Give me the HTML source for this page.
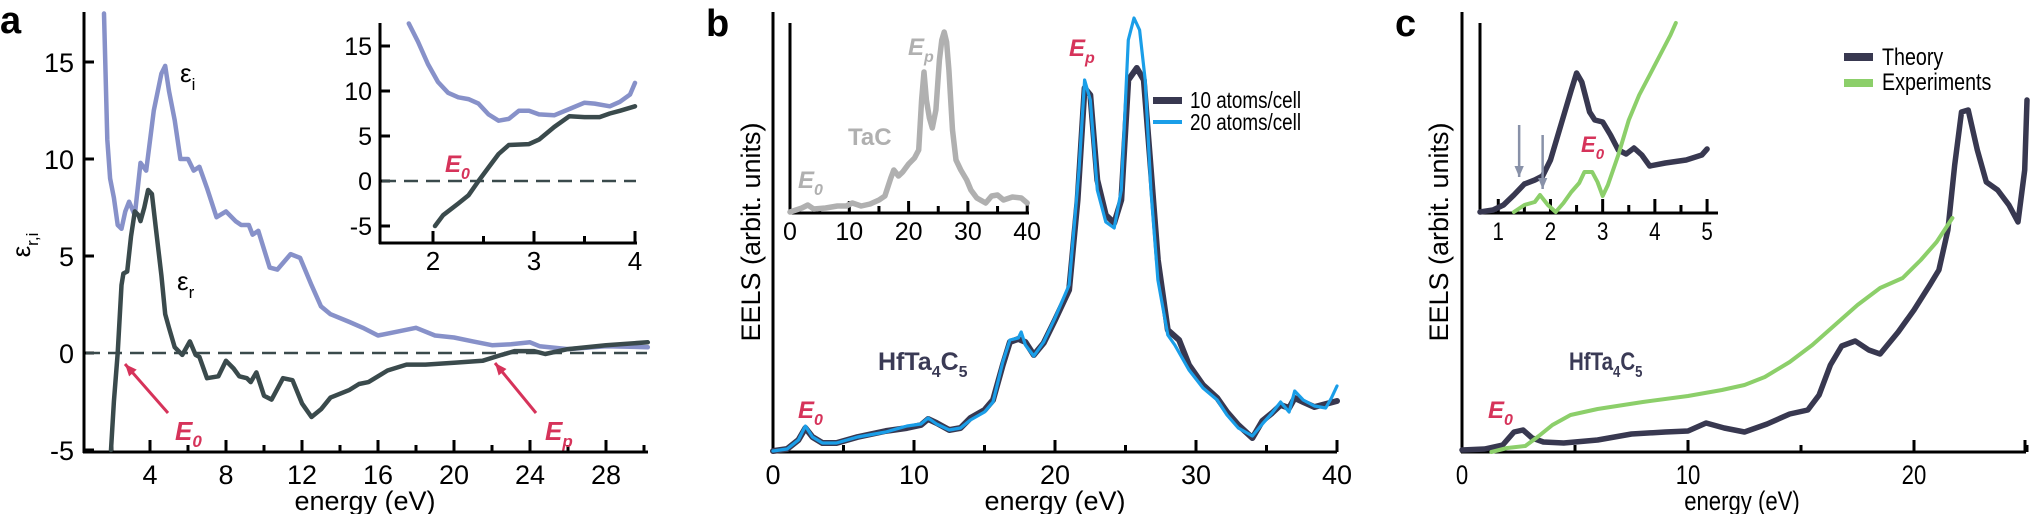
<!DOCTYPE html>
<html><head><meta charset="utf-8">
<style>
html,body{margin:0;padding:0;background:#fff;}
svg{display:block;font-family:"Liberation Sans",sans-serif;}
</style></head>
<body>
<svg id="s" width="2030" height="514" viewBox="0 0 2030 514" xmlns="http://www.w3.org/2000/svg">
<g id="g"></g>
<text x="0" y="33" font-size="38" font-weight="bold">a</text>
<text x="706" y="36" font-size="38" font-weight="bold">b</text>
<text x="1395" y="36" font-size="38" font-weight="bold">c</text>
<text x="180" y="82" font-size="26">ε<tspan font-size="17" dy="8">i</tspan></text>
<text x="177" y="290" font-size="26">ε<tspan font-size="17" dy="8">r</tspan></text>
<text transform="translate(30,245) rotate(-90)" font-size="26" text-anchor="middle">ε<tspan font-size="17" dy="8">r,i</tspan></text>
<text x="365" y="510" font-size="27" text-anchor="middle">energy (eV)</text>
<text x="175" y="440" font-size="26" font-weight="bold" font-style="italic" fill="#d6335a">E<tspan font-size="17" dy="7">0</tspan></text>
<text x="545" y="440" font-size="26" font-weight="bold" font-style="italic" fill="#d6335a">E<tspan font-size="17" dy="7">p</tspan></text>
<text x="445" y="172" font-size="24" font-weight="bold" font-style="italic" fill="#d6335a">E<tspan font-size="16" dy="7">0</tspan></text>
<text transform="translate(760,232) rotate(-90)" font-size="27" text-anchor="middle">EELS (arbit. units)</text>
<text x="1055" y="510" font-size="27" text-anchor="middle">energy (eV)</text>
<text x="878" y="370" font-size="25" font-weight="bold" fill="#3a3a55">HfTa<tspan font-size="16" dy="7">4</tspan><tspan dy="-7">C</tspan><tspan font-size="16" dy="7">5</tspan></text>
<text x="798" y="418" font-size="24" font-weight="bold" font-style="italic" fill="#d6335a">E<tspan font-size="16" dy="7">0</tspan></text>
<text x="1069" y="56" font-size="24" font-weight="bold" font-style="italic" fill="#d6335a">E<tspan font-size="16" dy="7">p</tspan></text>
<text x="848" y="145" font-size="24" font-weight="bold" fill="#b0b0b0">TaC</text>
<text x="798" y="188" font-size="24" font-weight="bold" font-style="italic" fill="#b0b0b0">E<tspan font-size="16" dy="7">0</tspan></text>
<text x="908" y="55" font-size="24" font-weight="bold" font-style="italic" fill="#b0b0b0">E<tspan font-size="16" dy="7">p</tspan></text>
<g font-size="23" transform="translate(1190,0) scale(0.82,1)"><text x="0" y="108">10 atoms/cell</text><text x="0" y="130">20 atoms/cell</text></g>
<rect x="1153" y="97" width="29" height="7" fill="#383850"/>
<rect x="1153" y="120" width="29" height="4" fill="#1a9ee8"/>
<text transform="translate(1448,232) rotate(-90)" font-size="27" text-anchor="middle">EELS (arbit. units)</text>
<g transform="translate(1742,0) scale(0.82,1)"><text x="0" y="510" font-size="27" text-anchor="middle">energy (eV)</text></g>
<g transform="translate(1569,0) scale(0.82,1)"><text x="0" y="370" font-size="25" font-weight="bold" fill="#3a3a55">HfTa<tspan font-size="16" dy="7">4</tspan><tspan dy="-7">C</tspan><tspan font-size="16" dy="7">5</tspan></text></g>
<text x="1488" y="418" font-size="24" font-weight="bold" font-style="italic" fill="#d6335a">E<tspan font-size="16" dy="7">0</tspan></text>
<text x="1581" y="152" font-size="22" font-weight="bold" font-style="italic" fill="#d6335a">E<tspan font-size="15" dy="7">0</tspan></text>
<g font-size="24" transform="translate(1882,0) scale(0.82,1)"><text x="0" y="65">Theory</text><text x="0" y="90">Experiments</text></g>
<rect x="1844" y="53" width="29" height="8" fill="#383850"/>
<rect x="1844" y="79" width="29" height="8" fill="#8ccf6a"/>
</svg>
<script>
const g=document.getElementById('g');const NS='http://www.w3.org/2000/svg';
function el(t,a){const e=document.createElementNS(NS,t);for(const k in a)e.setAttribute(k,a[k]);g.appendChild(e);return e;}
function line(x1,y1,x2,y2,w,c,d){el('line',{x1,y1,x2,y2,stroke:c||'#000','stroke-width':w||3,'stroke-dasharray':d||'none'});}
function txt(x,y,s,fs,anchor,sx){const e=el('text',{x,y,'font-size':fs,'text-anchor':anchor||'middle'});e.textContent=s;if(sx){e.setAttribute('transform',`translate(${x},0) scale(${sx},1) translate(${-x},0)`);}}
function curve(pts,fx,fy,c,w){el('polyline',{points:pts.map(p=>fx(p[0]).toFixed(1)+','+fy(p[1]).toFixed(1)).join(' '),fill:'none',stroke:c,'stroke-width':w,'stroke-linejoin':'round','stroke-linecap':'round'});}
function arrow(x1,y1,x2,y2,c,w,hs){line(x1,y1,x2,y2,w,c);const a=Math.atan2(y2-y1,x2-x1);const p=[[x2,y2],[x2-hs*Math.cos(a-0.4),y2-hs*Math.sin(a-0.4)],[x2-hs*Math.cos(a+0.4),y2-hs*Math.sin(a+0.4)]];el('polygon',{points:p.map(q=>q.join(',')).join(' '),fill:c});}

const ax=E=>74+19*E, ay=v=>353-19.4*v;
line(84,12,84,453,3);line(83,452,648,452,3);
[15,10,5,0,-5].forEach(v=>{line(84,ay(v),94,ay(v),3);txt(74,ay(v)+10,String(v),27,'end');});
for(let E=2;E<=30;E+=2){line(ax(E),452,ax(E),E%4==0?440:445,3);}
[4,8,12,16,20,24,28].forEach(E=>txt(ax(E),484,String(E),27));
line(86,353,647,353,2.5,'#3a4a4c','14 8');
const ei=[[1.58,17.5],[1.75,11],[1.9,9],[2.1,8],[2.3,6.6],[2.5,6.4],[2.7,7.3],[2.9,7.8],[3.2,7.1],[3.5,9.8],[3.8,9.4],[4.2,12.5],[4.6,14.4],[4.8,14.8],[5.0,13.5],[5.3,12],[5.6,10],[6.0,10],[6.3,9.4],[6.6,9.6],[7.0,8.5],[7.5,7],[8.0,7.3],[8.5,6.8],[8.8,6.6],[9.2,6.6],[9.4,6.1],[9.7,6.3],[10.3,4.4],[10.7,4.3],[11.4,5.1],[11.9,4.9],[12.5,3.5],[13.0,2.4],[13.5,2.0],[14.5,1.6],[15.2,1.3],[16,0.9],[17,1.1],[18,1.3],[19,0.9],[20,0.8],[21,0.6],[22,0.4],[23,0.45],[24,0.55],[24.5,0.35],[26,0.2],[28,0.35],[30.2,0.3]];
const er=[[1.95,-5],[2.1,-2.5],[2.3,0],[2.5,3.5],[2.6,4.1],[2.8,4.2],[3.0,6],[3.2,7.3],[3.4,7.1],[3.5,6.8],[3.7,7.5],[3.9,8.4],[4.1,8.2],[4.3,6.5],[4.6,4],[4.8,2],[5.0,1.3],[5.3,0.3],[5.7,-0.1],[6.1,0.6],[6.4,-0.1],[6.6,-0.2],[7.0,-1.3],[7.6,-1.2],[8.0,-0.4],[8.4,-0.8],[8.7,-1.2],[9.1,-1.3],[9.3,-1.5],[9.6,-1.0],[10.0,-2.2],[10.4,-2.4],[11.0,-1.3],[11.5,-1.4],[12.0,-2.6],[12.5,-3.3],[13.0,-2.9],[13.5,-2.3],[14.5,-1.9],[15,-1.6],[15.5,-1.5],[16.5,-0.9],[17.5,-0.6],[18.5,-0.6],[20,-0.5],[21.5,-0.4],[22.5,-0.1],[23.2,0.1],[24.2,0.1],[24.8,-0.05],[26,0.2],[28,0.4],[30.2,0.55]];
curve(ei,ax,ay,'#8791c9',4.5);curve(er,ax,ay,'#3a4a4c',4.5);
arrow(168,413,125,364,'#d6335a',3,13);arrow(536,413,495,363,'#d6335a',3,13);

const ix=E=>433+101*(E-2), iy=v=>181-9*v;
el('rect',{x:381,y:22,width:258,height:160,fill:'#fff'});
line(380,23,380,244,3);line(379,243,637,243,3);
[15,10,5,0,-5].forEach(v=>{line(380,iy(v),390,iy(v),3);txt(372,iy(v)+9,String(v),25,'end');});
[2,2.5,3,3.5,4].forEach(E=>line(ix(E),243,ix(E),E%1==0?231:236,3));
[2,3,4].forEach(E=>txt(ix(E),270,String(E),26));
line(382,181,636,181,2.5,'#3a4a4c','14 8');
curve([[1.76,17.5],[1.85,15.5],[1.95,13],[2.05,11],[2.15,9.8],[2.25,9.3],[2.35,9.1],[2.45,8.6],[2.55,7.4],[2.65,6.7],[2.75,6.9],[2.85,7.8],[2.95,7.8],[3.05,7.4],[3.2,7.3],[3.35,8.0],[3.5,8.7],[3.6,8.6],[3.75,8.3],[3.85,8.8],[3.95,9.6],[4.0,10.9]],ix,iy,'#8791c9',4.5);
curve([[2.02,-5],[2.1,-3.8],[2.25,-2.5],[2.35,-1.6],[2.45,0],[2.55,1.5],[2.65,3],[2.75,4.0],[2.95,4.1],[3.05,4.6],[3.2,6],[3.35,7.2],[3.5,7.1],[3.65,7.1],[3.75,7.5],[3.85,7.8],[4.0,8.3]],ix,iy,'#3a4a4c',4.5);

const bx=E=>773+14.1*E;
line(773,12,773,453,3);line(772,452,1337,452,3);
for(let E=5;E<=40;E+=5)line(bx(E),452,bx(E),E%10==0?440:445,3);
[0,10,20,30,40].forEach(E=>txt(bx(E),484,String(E),27));
const bd=[[0,451],[1,449],[1.8,440],[2.3,428],[2.8,437],[3.5,443],[4.5,443],[6,437],[8,431],[9.5,428],[10.5,425],[11,419],[11.6,423],[12.5,430],[13.3,428],[14,418],[15,410],[15.6,400],[16.3,365],[16.8,342],[17.4,339],[17.9,342],[18.5,355],[19.2,343],[20,320],[21,290],[21.6,200],[22.1,88],[22.5,95],[23,180],[23.6,215],[24.2,223],[24.7,200],[25.2,80],[25.8,68],[26.3,80],[26.8,170],[27.3,260],[28,330],[28.8,340],[29.5,365],[30.5,385],[31.5,398],[32.2,412],[33,425],[34,438],[34.7,421],[35.4,413],[36,405],[36.6,408],[37,398],[37.6,402],[38.4,407],[39.2,404],[40,401]];
const bb=[[0,451],[1,449],[1.8,440],[2.3,426],[2.8,437],[3.5,443],[4.5,443],[6,437],[8,432],[9.5,426],[10.5,424],[11,418],[11.6,424],[12.5,430],[13.3,428],[14,420],[15,412],[15.6,402],[16.3,362],[16.8,340],[17.4,338],[17.6,332],[17.9,345],[18.5,356],[19.2,342],[20,318],[21,285],[21.7,170],[22.1,80],[22.5,100],[23,190],[23.6,222],[24.2,228],[24.7,190],[25.2,40],[25.6,18],[26,30],[26.4,80],[26.8,190],[27.3,280],[28,335],[28.5,345],[29.5,370],[30.5,388],[31.5,400],[32.2,415],[33,428],[34,436],[34.7,424],[35.4,413],[36,402],[36.6,412],[37,391],[37.6,400],[38.4,406],[39.2,408],[39.6,398],[40,386]];
curve(bd,bx,y=>y,'#383850',6);curve(bb,bx,y=>y,'#1a9ee8',3.2);

const tx=E=>790+5.93*E;
line(790,23,790,214,3);line(789,213,1029,213,3);
for(let E=5;E<=40;E+=5)line(tx(E),213,tx(E),E%10==0?201:206,3);
[0,10,20,30,40].forEach(E=>txt(tx(E),240,String(E),25));
curve([[0,212],[2,208],[3,205],[4,209],[6,208],[8,206],[9.5,206],[10.5,203],[12,206],[13.5,204],[15,200],[16,196],[17,178],[17.5,170],[18.3,176],[19,172],[20,164],[21,158],[21.7,150],[22.2,100],[22.6,72],[23,100],[23.5,118],[24,128],[24.6,110],[25.2,60],[25.6,40],[26,32],[26.4,42],[26.8,70],[27.4,130],[28,160],[28.8,170],[29.8,180],[30.5,190],[31.5,198],[33,203],[34,196],[35,195],[36,200],[37.5,197],[39,198],[40,203]],tx,y=>y,'#b0b0b0',5.5);

const cx=E=>1462+22.6*E;
line(1462,12,1462,453,3);line(1461,452,2026,452,3);
for(let E=5;E<=25;E+=5)line(cx(E),452,cx(E),E%10==0?440:445,3);
line(2025,452,2025,440,3);
[0,10,20].forEach(E=>txt(cx(E),484,String(E),27,'middle',0.82));
curve([[0,450],[1,449],[1.8,445],[2.3,432],[2.7,430],[3.1,438],[3.6,442],[4.5,443],[6,440],[7.5,434],[9,432],[10,431],[10.8,423],[11.6,428],[12.5,432],[13.5,424],[14.5,414],[15.3,410],[15.8,395],[16.3,365],[16.8,346],[17.4,341],[18,350],[18.5,354],[19.3,332],[20,310],[20.7,285],[21.1,270],[21.5,230],[21.8,165],[22.1,112],[22.4,110],[22.8,150],[23.2,182],[23.7,190],[24.2,205],[24.6,222],[24.9,170],[25,100]],cx,y=>y,'#383850',5.5);
curve([[1.3,452],[2,448],[2.8,446],[3.4,436],[4,425],[4.8,415],[6,409],[8,402],[10,396],[11.5,390],[12.5,385],[13.4,377],[14.5,362],[15.5,345],[16.5,325],[17.5,305],[18.5,288],[19.5,278],[20.3,260],[21,242],[21.7,218]],cx,y=>y,'#8ccf6a',4);

const kx=E=>1480+52.2*(E-0.65), ky=y=>y;
line(1480,23,1480,214,3);line(1479,213,1718,213,3);
for(let E=1;E<=5;E+=0.5)line(kx(E),213,kx(E),E%1==0?199:205,3);
[1,2,3,4,5].forEach(E=>txt(kx(E),240,String(E),25,'middle',0.82));
curve([[0.65,212],[0.9,210],[1.1,205],[1.3,195],[1.5,184],[1.7,180],[1.85,176],[2.0,160],[2.2,125],[2.4,90],[2.5,73],[2.6,82],[2.75,112],[2.85,120],[3.0,122],[3.15,135],[3.3,150],[3.45,154],[3.6,148],[3.75,155],[3.9,166],[4.2,163],[4.6,160],[4.9,155],[5.0,149]],kx,ky,'#383850',5.5);
curve([[1.3,212],[1.5,205],[1.7,202],[1.8,195],[1.95,205],[2.1,212],[2.25,203],[2.4,192],[2.55,183],[2.65,172],[2.8,172],[2.9,182],[3.0,196],[3.1,185],[3.3,155],[3.5,120],[3.7,95],[3.9,75],[4.1,55],[4.3,35],[4.4,23]],kx,ky,'#8ccf6a',4);
arrow(kx(1.4),125,kx(1.4),177,'#8891a8',2.5,12);
arrow(kx(1.85),135,kx(1.85),189,'#8891a8',2.5,12);
</script>
</body></html>
